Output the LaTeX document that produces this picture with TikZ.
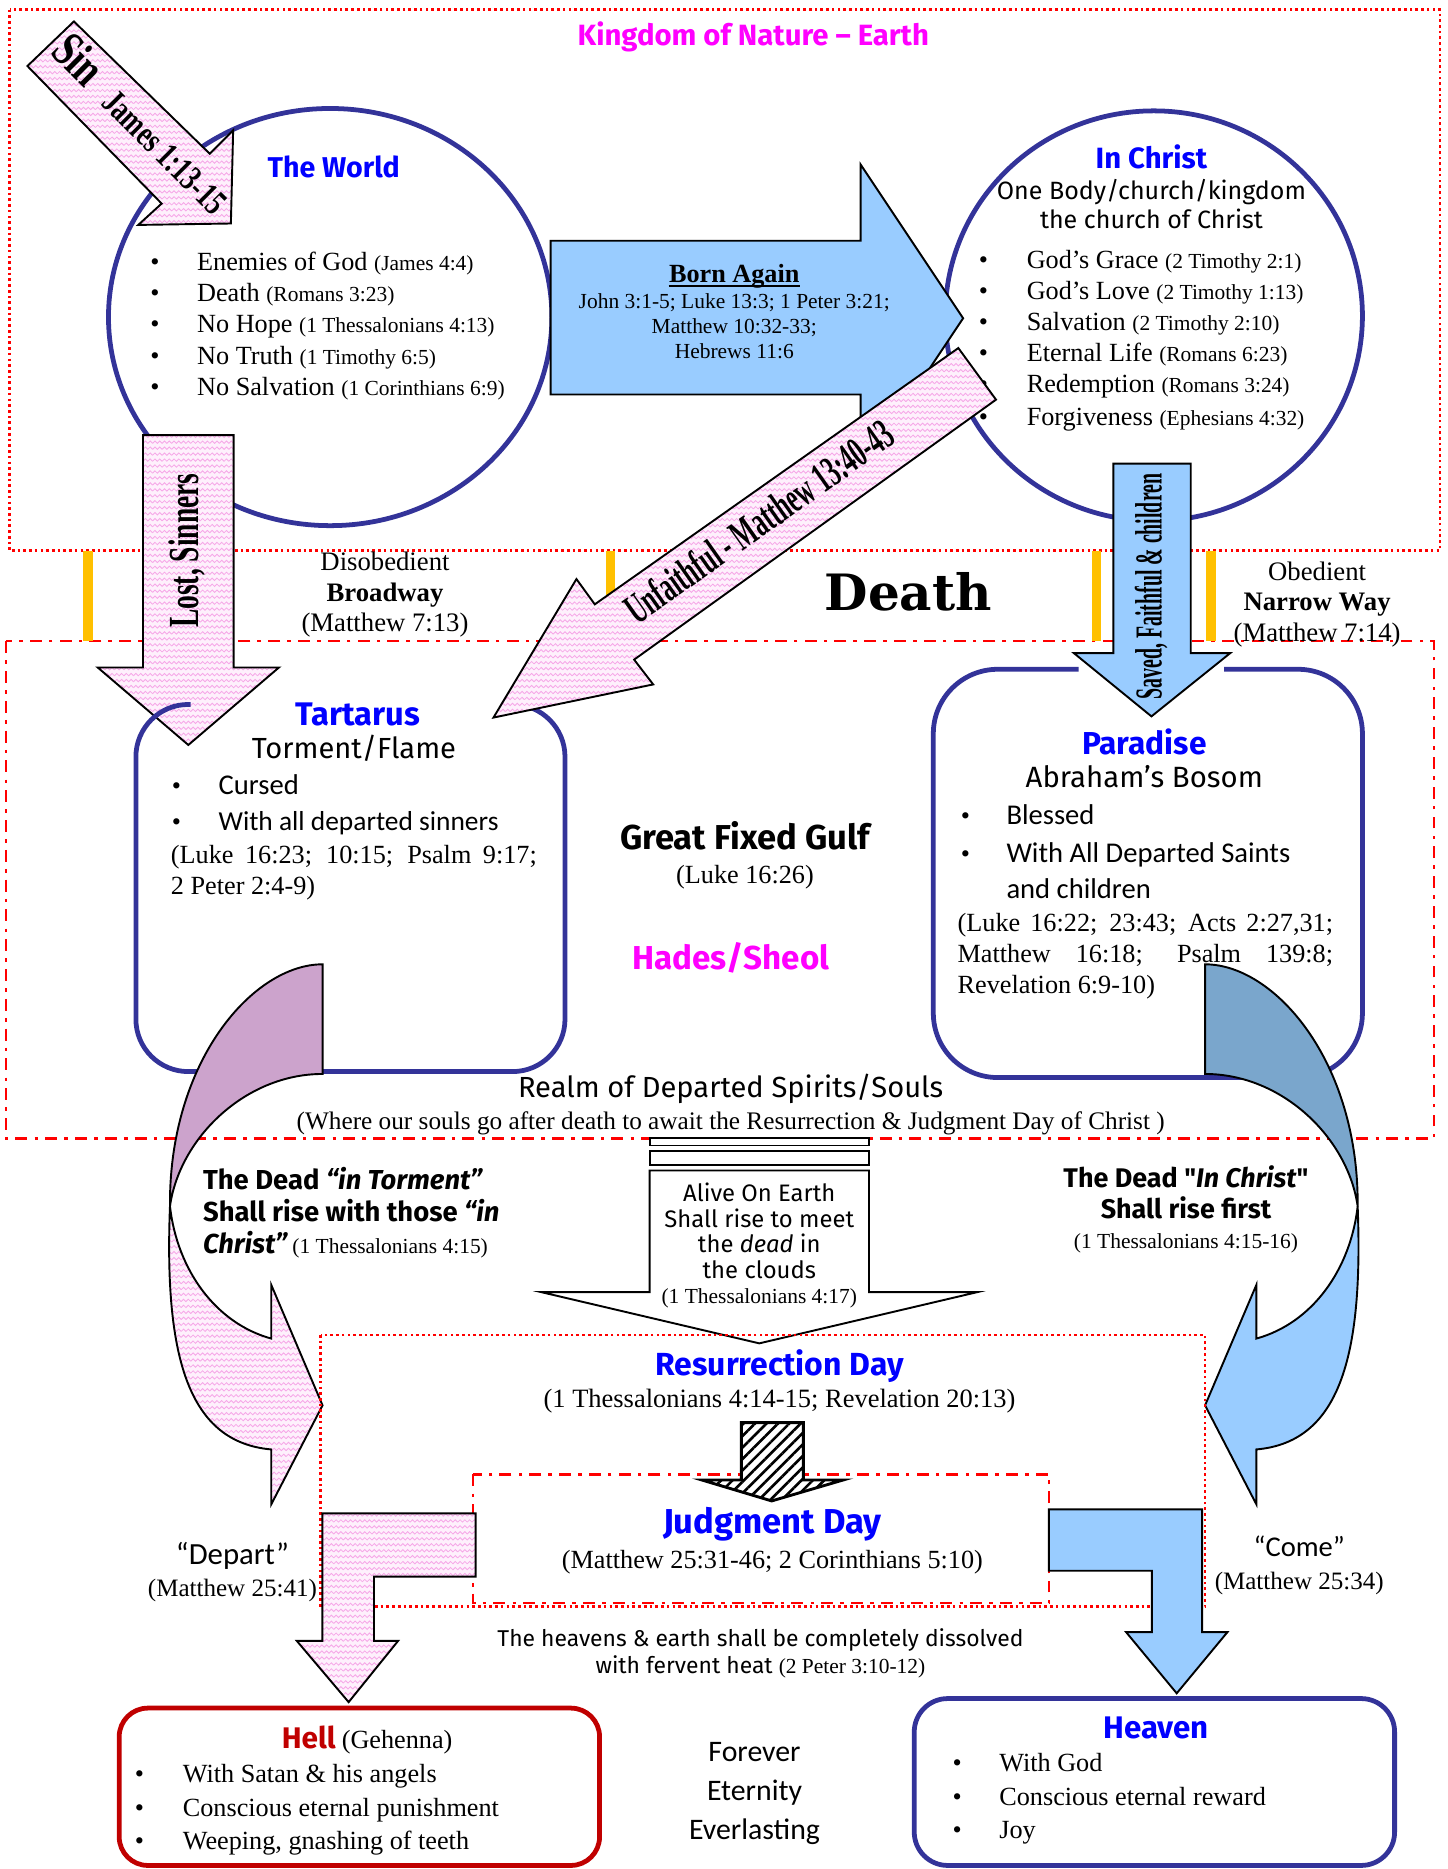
\documentclass[tikz,border=0pt]{standalone}
\usepackage{fontspec}
\setmainfont{Liberation Serif}
\newfontfamily\comic{Fira Sans}
\newfontfamily\hand{Carlito}
\newfontfamily\heavy{DejaVu Serif}
\newfontfamily\cndA[FakeStretch=0.73]{Liberation Serif}
\newfontfamily\cndB[FakeStretch=0.64]{Liberation Serif}
\newfontfamily\cndC[FakeStretch=0.52]{Liberation Serif}
\newfontfamily\cndD[FakeStretch=0.57]{Liberation Serif}
\usetikzlibrary{shapes.geometric,patterns.meta}
\definecolor{bordercol}{RGB}{51,51,153}
\definecolor{pinkbase}{RGB}{254,240,252}
\definecolor{pinkline}{RGB}{246,168,232}
\definecolor{lightblue}{RGB}{153,204,255}
\definecolor{darkblue}{RGB}{122,166,204}
\definecolor{plum}{RGB}{204,163,204}
\definecolor{gold}{RGB}{255,192,0}
\definecolor{hellred}{RGB}{192,0,0}
\definecolor{titleblue}{RGB}{0,0,255}
\definecolor{mag}{RGB}{255,0,255}
\tikzdeclarepattern{
  name=zigzag,
  type=uncolored,
  bottom left={(-0.1pt,-0.1pt)},
  top right={(4.1pt,2.6pt)},
  tile size={(4pt,2.5pt)},
  code={
    \draw[line width=0.35pt] (0pt,0.5pt) -- (1pt,1.5pt) -- (2pt,0.5pt) -- (3pt,1.5pt) -- (4pt,0.5pt);
  }
}
\newcommand\fsz[1]{\fontsize{#1}{#1}\selectfont}
\newcommand\curvedarrow[2]{%
  \draw[arr, fill=#1] (0,809) .. controls (-58,809) and (-129,890) .. (-128,1012)
     .. controls (-120,955) and (-65,901) .. (0,901) -- cycle;
  \draw[arr, #2] (-128,1012) .. controls (-133,1140) and (-112,1210) .. (-43,1216)
     -- (-43,1262) -- (0,1179) -- (-43,1078) -- (-43,1123)
     .. controls (-90,1110) and (-122,1065) .. (-128,1012) -- cycle;}
\begin{document}
\begin{tikzpicture}[x=0.5pt,y=-0.5pt,
  lt/.style={inner sep=0pt, anchor=mid west, yshift=-2pt},
  ct/.style={inner sep=0pt, anchor=mid, yshift=-2pt},
  bl/.style={inner sep=0pt, anchor=mid, yshift=-2pt, font=\fsz{11}},
  boxline/.style={draw=bordercol, line width=2pt},
  arr/.style={draw=black, line width=0.8pt, line join=miter},
  pinkfill/.style={preaction={fill=pinkbase}, pattern=zigzag, pattern color=pinkline},
  pinkarr/.style={arr, pinkfill},
  bluearr/.style={arr, fill=lightblue},
  reddot/.style={draw=red, line width=1.1pt, dash pattern=on 1.1pt off 1.3pt},
  reddashdot/.style={draw=red, line width=1pt, dash pattern=on 5pt off 3pt on 1.5pt off 3pt},
  goldbar/.style={draw=gold, line width=4pt},
  ttl/.style={inner sep=0pt, anchor=mid, yshift=-2pt, text=titleblue, font=\comic\bfseries\fsz{13.5}},
  tm/.style={font=\fsz{11}},
  ref/.style={font=\fsz{9}},
]
\useasboundingbox (0,0) rectangle (1214,1568);
\fill[white] (0,0) rectangle (1214,1568);

% ---------- frames ----------
\draw[reddot] (8,8) rectangle (1208,462);
\draw[reddashdot] (5,538) rectangle (1203,955);
\draw[goldbar] (74,462) -- (74,538);
\draw[goldbar] (512,462) -- (512,538);
\draw[goldbar] (920,462) -- (920,538);
\draw[goldbar] (1016,462) -- (1016,538);

\node[ct, text=mag, font=\comic\bfseries\fsz{12.3}] (title) at (632,30) {Kingdom of Nature – Earth};

% ---------- The World ----------
\node[boxline, ellipse, minimum width=186pt, minimum height=175pt, inner sep=0pt] (world) at (277,266) {};
\node[ttl, font=\comic\bfseries\fsz{12}] (worldt) at (280,140) {The World};
\node[bl] (wb1) at (130,218) {•};
\node[bl] (wb2) at (130,244) {•};
\node[bl] (wb3) at (130,270) {•};
\node[bl] (wb4) at (130,297) {•};
\node[bl] (wb5) at (130,323) {•};
\node[lt, tm] (w1) at (165,218) {Enemies of God {\fsz{9}(James 4:4)}};
\node[lt, tm] (w2) at (165,244) {Death {\fsz{9}(Romans 3:23)}};
\node[lt, tm] (w3) at (165,270) {No Hope {\fsz{9}(1 Thessalonians 4:13)}};
\node[lt, tm] (w4) at (165,297) {No Truth {\fsz{9}(1 Timothy 6:5)}};
\node[lt, tm] (w5) at (165,323) {No Salvation {\fsz{9}(1 Corinthians 6:9)}};

% ---------- In Christ ----------
\node[boxline, ellipse, minimum width=175pt, minimum height=172pt, inner sep=0pt] (christ) at (968,265) {};
\node[ttl, font=\comic\bfseries\fsz{12.3}] (christt) at (966,133) {In Christ};
\node[ct, font=\comic\fsz{10.5}] (christ2) at (966,159) {One Body/church/kingdom};
\node[ct, font=\comic\fsz{10.5}] (christ3) at (966,183) {the church of Christ};
\node[bl] (cb1) at (825,217) {•};
\node[bl] (cb2) at (825,243) {•};
\node[bl] (cb3) at (825,269) {•};
\node[bl] (cb4) at (825,295) {•};
\node[bl] (cb5) at (825,321) {•};
\node[bl] (cb6) at (825,348) {•};
\node[lt, tm] (c1) at (861,217) {God’s Grace {\fsz{9}(2 Timothy 2:1)}};
\node[lt, tm] (c2) at (861,243) {God’s Love {\fsz{9}(2 Timothy 1:13)}};
\node[lt, tm] (c3) at (861,269) {Salvation {\fsz{9}(2 Timothy 2:10)}};
\node[lt, tm] (c4) at (861,295) {Eternal Life {\fsz{9}(Romans 6:23)}};
\node[lt, tm] (c5) at (861,321) {Redemption {\fsz{9}(Romans 3:24)}};
\node[lt, tm] (c6) at (861,348) {Forgiveness {\fsz{9}(Ephesians 4:32)}};

% ---------- Born Again ----------
\draw[bluearr] (462,202) -- (722,202) -- (722,138) -- (808,267) -- (722,396) -- (722,331) -- (462,331) -- cycle;
\node[ct, font=\bfseries\fsz{11}] (born) at (616,228) {Born Again};
\draw[line width=0.9pt] ([yshift=-1.6pt]born.base west) -- ([yshift=-1.6pt]born.base east);
\node[ct, ref] (born1) at (616,250) {John 3:1-5; Luke 13:3; 1 Peter 3:21;};
\node[ct, ref] (born2) at (616,271) {Matthew 10:32-33;};
\node[ct, ref] (born3) at (616,292) {Hebrews 11:6};

% ---------- Sin / Lost / Saved arrows ----------
\draw[pinkarr] (62,18) -- (176,129) -- (195.6,109.4) -- (193.7,187.5) -- (116,188.7) -- (135.6,170.8) -- (23,55.4) -- cycle;
\node[inner sep=0pt, anchor=mid, rotate=-45, font=\cndA\bfseries] (sint) at (113,110) {{\fsz{21}Sin}\hspace{9pt}{\fsz{15}James 1:13-15}};

\draw[pinkarr] (120,365) -- (196,365) -- (196,560) -- (234,560) -- (158,625) -- (82,560) -- (120,560) -- cycle;
\node[inner sep=0pt, anchor=mid, rotate=90, font=\cndB\bfseries\fsz{18}] (lostt) at (162,462) {Lost, Sinners};

\draw[bluearr] (934,389) -- (999,389) -- (999,548) -- (1032,548) -- (966,601) -- (901,548) -- (934,548) -- cycle;
\node[inner sep=0pt, anchor=mid, rotate=90, font=\cndC\bfseries\fsz{16}] (savedt) at (970,492) {Saved, Faithful \& children};

% ---------- between labels ----------
\node[ct, font=\fsz{11.2}] (dis1) at (323,470) {Disobedient};
\node[ct, font=\bfseries\fsz{11.2}] (dis2) at (323,496) {Broadway};
\node[ct, font=\fsz{11.2}] (dis3) at (323,521) {(Matthew 7:13)};
\node[ct, font=\fsz{11.2}] (ob1) at (1105,478) {Obedient};
\node[ct, font=\bfseries\fsz{11.2}] (ob2) at (1105,504) {Narrow Way};
\node[ct, font=\fsz{11.2}] (ob3) at (1105,530) {(Matthew 7:14)};
\node[ct, font=\heavy\bfseries\fsz{21}] (death) at (762,504) {Death};

% ---------- Tartarus ----------
\draw[boxline, rounded corners=22pt] (160,591) -- (114,591) -- (114,899) -- (474,899) -- (474,591) -- (430,591);
\node[ttl, font=\comic\bfseries\fsz{13.7}] (tart) at (300,600) {Tartarus};
\node[ct, font=\comic\fsz{12.2}] (tart2) at (297,628) {Torment/Flame};
\node[bl] (tb1) at (148,658) {•};
\node[bl] (tb2) at (148,688) {•};
\node[lt, font=\hand\fsz{12}] (tl1) at (183,658) {Cursed};
\node[lt, font=\hand\fsz{11.5}] (tl2) at (183,688) {With all departed sinners};
\node[lt, font=\fsz{11}] (tr1) at (143,716) {\makebox[153.5pt][s]{(Luke 16:23; 10:15; Psalm 9:17;}};
\node[lt, font=\fsz{11}] (tr2) at (143,742) {2 Peter 2:4-9)};

% ---------- Paradise ----------
\draw[boxline, rounded corners=27pt] (905,561.5) -- (783,561.5) -- (783,904) -- (1143,904) -- (1143,561.5) -- (1027,561.5);
\node[ttl, font=\comic\bfseries\fsz{13.3}] (para) at (960,624) {Paradise};
\node[ct, font=\comic\fsz{12.3}] (para2) at (960,652) {Abraham’s Bosom};
\node[bl] (pb1) at (810,683) {•};
\node[bl] (pb2) at (810,715) {•};
\node[lt, font=\hand\fsz{12}] (pl1) at (844,683) {Blessed};
\node[lt, font=\hand\fsz{12}] (pl2) at (844,715) {With All Departed Saints};
\node[lt, font=\hand\fsz{12}] (pl3) at (844,745) {and children};
\node[lt, font=\fsz{11}] (pr1) at (803,773) {\makebox[157.5pt][s]{(Luke 16:22; 23:43; Acts 2:27,31;}};
\node[lt, font=\fsz{11}] (pr2) at (803,799) {\makebox[157.5pt][s]{Matthew 16:18; Psalm 139:8;}};
\node[lt, font=\fsz{11}] (pr3) at (803,825) {Revelation 6:9-10)};

% ---------- middle of Hades ----------
\node[ct, font=\comic\bfseries\fsz{14.5}] (gulf) at (625,704) {Great Fixed Gulf};
\node[ct, font=\fsz{11}] (gulf2) at (625,733) {(Luke 16:26)};
\node[ct, text=mag, font=\comic\bfseries\fsz{13.9}] (hades) at (613,805) {Hades/Sheol};
\node[ct, font=\comic\fsz{12.2}] (realm) at (613,912) {Realm of Departed Spirits/Souls};
\node[ct, font=\fsz{10.6}] (realm2) at (613,939) {(Where our souls go after death to await the Resurrection \& Judgment Day of Christ )};

% ---------- Unfaithful arrow ----------
\draw[pinkarr] (804,292) -- (835.6,335.3) -- (532,553.4) -- (548,574.2) -- (414,602) -- (483.6,485.8) -- (499,507) -- cycle;
\node[inner sep=0pt, anchor=mid, rotate=35.2, font=\cndD\bfseries\fsz{18}] (unf) at (641,444) {Unfaithful - Matthew 13:40-43};

% ---------- curved arrows ----------
\begin{scope}[shift={(270.6,0)}]
  \curvedarrow{plum}{pinkfill}
\end{scope}
\begin{scope}[shift={(1011,0)}, xscale=-1]
  \curvedarrow{darkblue}{fill=lightblue}
\end{scope}

\node[lt, font=\comic\bfseries\fsz{11.5}] (dt1) at (170,989) {The Dead \textit{“in Torment”}};
\node[lt, font=\comic\bfseries\fsz{11.5}] (dt2) at (170,1016) {Shall rise with those \textit{“in}};
\node[lt, font=\comic\bfseries\fsz{11.5}] (dt3) at (170,1043) {\textit{Christ”}\,{\mdseries\rmfamily\fsz{9}(1 Thessalonians 4:15)}};

\node[ct, font=\comic\bfseries\fsz{11.3}] (dc1) at (995,988) {The Dead "\textit{In Christ}"};
\node[ct, font=\comic\bfseries\fsz{11.3}] (dc2) at (995,1014) {Shall rise first};
\node[ct, font=\fsz{9}] (dc3) at (995,1039) {(1 Thessalonians 4:15-16)};

% ---------- Alive on earth ----------
\draw[arr, fill=white] (545,955) rectangle (729,961);
\draw[arr, fill=white] (545,966) rectangle (729,977);
\draw[arr, fill=white] (545,982) -- (729,982) -- (729,1084) -- (820,1084) -- (637,1127) -- (454,1084) -- (545,1084) -- cycle;
\node[ct, font=\comic\fsz{10}] (al1) at (637,999) {Alive On Earth};
\node[ct, font=\comic\fsz{10}] (al2) at (637,1021) {Shall rise to meet};
\node[ct, font=\comic\fsz{10}] (al3) at (637,1042) {the \textit{dead} in};
\node[ct, font=\comic\fsz{10}] (al4) at (637,1064) {the clouds};
\node[ct, font=\fsz{9}] (al5) at (637,1085) {(1 Thessalonians 4:17)};

% ---------- Resurrection & Judgment ----------
\draw[reddot] (269,1120) rectangle (1011,1348);
\draw[reddashdot] (397,1237) rectangle (880,1345);
\node[ttl, font=\comic\bfseries\fsz{13.4}] (res) at (654,1145) {Resurrection Day};
\node[ct, font=\fsz{11.1}] (res2) at (654,1172) {(1 Thessalonians 4:14-15; Revelation 20:13)};
\fill[white] (622,1193.5) -- (674,1193.5) -- (674,1241.6) -- (707.5,1241.6) -- (647.4,1259.2) -- (588.7,1241.6) -- (622,1241.6) -- cycle;
\draw[arr, line width=1.2pt, pattern={Lines[angle=45,distance=3.4pt,line width=1.1pt]}] (622,1193.5) -- (674,1193.5) -- (674,1241.6) -- (707.5,1241.6) -- (647.4,1259.2) -- (588.7,1241.6) -- (622,1241.6) -- cycle;
\node[ttl, font=\comic\bfseries\fsz{14.5}] (judg) at (648,1278) {Judgment Day};
\node[ct, font=\fsz{11}] (judg2) at (648,1307) {(Matthew 25:31-46; 2 Corinthians 5:10)};

% ---------- Depart / Come ----------
\draw[pinkarr] (270.4,1269.6) -- (399,1269.6) -- (399,1322.7) -- (313.8,1322.7) -- (313.8,1376.6) -- (334,1376.6) -- (292.5,1428) -- (249,1376.6) -- (270.4,1376.6) -- cycle;
\draw[bluearr] (880,1266.3) -- (1008.5,1266.3) -- (1008.5,1369.2) -- (1029.8,1369.2) -- (987.2,1420.6) -- (944.7,1369.2) -- (966.4,1369.2) -- (966.4,1317.8) -- (880,1317.8) -- cycle;
\node[ct, font=\hand\fsz{12.9}] (dep) at (195,1304) {“Depart”};
\node[ct, font=\fsz{10.5}] (dep2) at (195,1331) {(Matthew 25:41)};
\node[ct, font=\hand\fsz{12}] (come) at (1090,1297) {“Come”};
\node[ct, font=\fsz{10.5}] (come2) at (1090,1325) {(Matthew 25:34)};

\node[ct, font=\comic\fsz{9.6}] (hv1) at (638,1373) {The heavens \& earth shall be completely dissolved};
\node[ct, font=\comic\fsz{9.6}] (hv2) at (638,1395) {with fervent heat {\rmfamily\fsz{9}(2 Peter 3:10-12)}};

% ---------- Hell ----------
\node[draw=hellred, line width=2pt, rounded corners=12pt, minimum width=201.5pt, minimum height=66pt, inner sep=0pt] (hell) at (301.5,1499) {};
\node[ct] (hellt) at (308,1458) {{\comic\bfseries\fsz{12.5}\textcolor{hellred}{Hell}} {\fsz{11}(Gehenna)}};
\node[bl] (hb1) at (117,1487) {•};
\node[bl] (hb2) at (117,1515) {•};
\node[bl] (hb3) at (117,1543) {•};
\node[lt, tm] (h1) at (153,1487) {With Satan \& his angels};
\node[lt, tm] (h2) at (153,1515) {Conscious eternal punishment};
\node[lt, tm] (h3) at (153,1543) {Weeping, gnashing of teeth};

\node[ct, font=\hand\fsz{12.5}] (fe1) at (633,1469) {Forever};
\node[ct, font=\hand\fsz{12.5}] (fe2) at (633,1502) {Eternity};
\node[ct, font=\hand\fsz{12.5}] (fe3) at (633,1535) {Everlasting};

% ---------- Heaven ----------
\node[draw=bordercol, line width=2pt, rounded corners=14pt, minimum width=201.5pt, minimum height=70pt, inner sep=0pt] (heaven) at (968.5,1495) {};
\node[ttl, font=\comic\bfseries\fsz{13.1}] (heavent) at (970,1450) {Heaven};
\node[bl] (vb1) at (803,1478) {•};
\node[bl] (vb2) at (803,1506) {•};
\node[bl] (vb3) at (803,1534) {•};
\node[lt, tm] (v1) at (838,1478) {With God};
\node[lt, tm] (v2) at (838,1506) {Conscious eternal reward};
\node[lt, tm] (v3) at (838,1534) {Joy};
\end{tikzpicture}
\end{document}
